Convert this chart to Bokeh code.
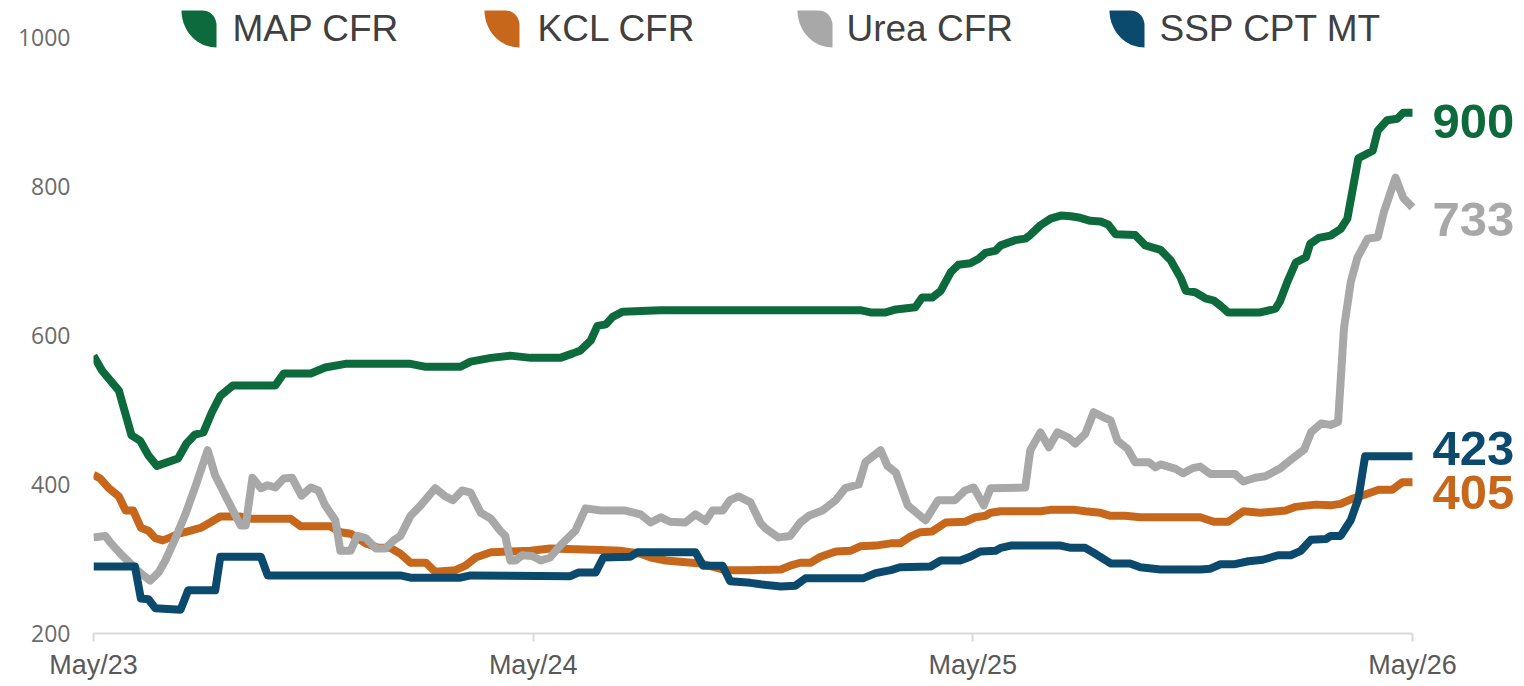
import numpy as np
from bokeh.plotting import figure
from bokeh.models import Range1d, FixedTicker, Label, PolyAnnotation
from bokeh.embed import file_html
from bokeh.resources import INLINE

# ---------------- data (weeks since May/23, price USD/t) ----------------
series_names = ["MAP CFR", "KCL CFR", "Urea CFR", "SSP CPT MT"]
series_colors = ["#0c6a3c", "#c6671c", "#a8a8a8", "#0b4a6c"]

map_weeks = [0, 1, 3, 4.5, 5.5, 6.5, 7.5, 10, 11, 12, 13, 14, 15, 16.5, 21.5, 22.5, 25.7, 27.4, 29.8,
             37.5, 39.3, 43.4, 44.6, 47, 49.3, 51.7, 55.2, 56.7, 57.6, 58.8, 59.6, 60.6, 61.4, 62.6,
             67, 90.7, 91.9, 93.7, 94.9, 97.2, 98, 99.2, 100.2, 101.4, 102.3, 103.7, 104.7, 105.5,
             106.7, 107.3, 109, 110.2, 110.8, 112, 113.2, 114.4, 115.6, 116.7, 117.9, 119.1, 120,
             120.9, 123.2, 124.4, 126.2, 127.4, 128.6, 129.2, 130.3, 131.5, 132.5, 133.3, 134.2,
             138, 139.8, 140.3, 141.2, 142.2, 143.4, 143.9, 144.9, 146.3, 147.5, 148.3, 149.6,
             151.3, 151.9, 153, 154.2, 154.9, 156]
map_vals = [573, 553, 526, 466, 459, 439, 425, 435, 455, 467, 470, 497, 519, 533, 533, 549, 549, 557, 562,
            562, 558, 558, 565, 570, 573, 570, 570, 576, 580, 593, 613, 615, 625, 632,
            634, 634, 631, 631, 635, 638, 651, 651, 660, 685, 695, 697, 703, 711,
            714, 721, 728, 730, 735, 748, 757, 761, 760, 758, 754, 753, 749,
            736, 735, 721, 715, 701, 677, 660, 658, 650, 647, 640, 631,
            631, 636, 645, 672, 698, 705, 723, 731, 734, 743, 757, 838,
            848, 875, 889, 891, 899, 899]

kcl_weeks = [0, 0.8, 1.8, 3, 3.8, 4.7, 5.6, 6.5, 7.3, 8.2, 9.1, 10.1, 11.5, 12.7, 13.8, 15, 17.4, 18.6,
             23.3, 24.5, 28, 29.2, 30.4, 32.2, 33.7, 35.1, 36.3, 37.5, 39.3, 40.4, 42.8, 44, 45.2, 47,
             49.3, 51.7, 54, 60, 62.3, 64.7, 65.9, 67.7, 71.8, 74.7, 77.7, 81.3, 82.4, 83.6, 84.8, 86,
             87.8, 89.5, 90.7, 92.5, 94.3, 95.4, 96.6, 97.8, 99.2, 100.8, 103.1, 104.3, 105.5, 106.1,
             107.3, 112, 113.2, 116.1, 117.3, 119.1, 120.3, 122, 123.8, 130.9, 132.5, 134.2, 135.1,
             136, 138, 141, 142.2, 143.7, 144.6, 146.3, 147.5, 148.7, 150.5, 152, 153.6, 154.8, 156]
kcl_vals = [413, 408, 395, 384, 365, 365, 342, 338, 328, 325, 329, 334, 338, 342, 349, 357, 357, 354,
            354, 344, 344, 336, 334, 321, 315, 315, 307, 295, 295, 283, 285, 291, 302, 309,
            310, 311, 314, 312, 311, 307, 302, 298, 294, 285, 285, 286, 291, 295, 295, 303,
            310, 311, 317, 318, 321, 321, 330, 336, 337, 349, 350, 356, 358, 362,
            364, 364, 366, 366, 364, 362, 358, 358, 356, 356, 350, 350, 357,
            364, 362, 365, 370, 372, 373, 372, 374, 380, 387, 393, 393, 403, 403]

urea_weeks = [0, 1.4, 2, 3.2, 5, 5.9, 6.7, 7.7, 8.5, 9.7, 10.9, 12.1, 13.5, 14.4, 15.6, 17.4, 18, 18.8,
              19.8, 20.6, 21.5, 22.5, 23.5, 24.6, 25.7, 26.6, 27.4, 28.6, 29.2, 30.4, 31.2, 32.2, 33.4,
              34.5, 35.5, 36.3, 37.5, 38.7, 40.4, 41.6, 42.5, 43.6, 44.6, 45.8, 47, 48.1, 48.7, 49.3,
              49.9, 50.7, 51.9, 52.9, 54, 55.2, 57, 58.2, 60, 62.9, 64.7, 65.9, 67.1, 68.2, 70, 71.2,
              72.4, 73.2, 74.4, 75.3, 76.3, 77.7, 78.9, 79.5, 81, 82.4, 83.6, 84.6, 86.2, 87.8, 88.9,
              90.5, 91.3, 93.1, 93.9, 94.9, 96.3, 98.4, 99.9, 101.9, 103.1, 104.1, 105.3, 106.1, 110.2,
              110.8, 112, 113, 114, 115.3, 116.1, 117.3, 118.3, 119.7, 120.3, 121.1, 122.3, 123.2,
              124.8, 125.6, 126.2, 128, 128.9, 130, 130.9, 132.1, 135, 136, 137.4, 138.6, 140.4,
              141.6, 143.2, 144, 145.2, 146.3, 147.2, 147.9, 148.7, 149.5, 150.7, 151.9, 152.6, 154,
              154.9, 156]
urea_vals = [329, 331, 322, 307, 287, 278, 271, 282, 298, 328, 361, 399, 446, 412, 385, 345, 345, 409,
             395, 399, 396, 408, 409, 385, 396, 392, 372, 352, 311, 311, 331, 328, 314,
             314, 325, 331, 358, 372, 395, 384, 379, 392, 389, 362, 354, 338, 331, 298,
             298, 305, 304, 298, 302, 318, 338, 368, 365, 365, 360, 349, 356, 350, 349, 360,
             351, 365, 365, 379, 384, 376, 348, 341, 329, 331, 349, 358, 365, 379, 395,
             400, 430, 446, 425, 416, 372, 352, 379, 379, 392, 396, 372, 395, 396,
             446, 470, 450, 470, 463, 455, 468, 497, 489, 486, 459, 448, 430,
             430, 423, 427, 421, 415, 422, 424, 414, 414, 404, 409, 411, 422,
             433, 447, 470, 482, 480, 484, 610, 672, 705, 730, 732, 765, 812,
             785, 772]

ssp_weeks = [0, 4.9, 5.6, 6.5, 7.3, 10.3, 11.2, 14.4, 15, 19.8, 20.6, 36.3, 37.5, 43.4, 44.6, 56.4, 57.4,
             59.4, 60.3, 63.5, 64.3, 71.2, 72.1, 74.4, 75.3, 77.7, 78.9, 81.3, 83, 84.2, 91, 92.5,
             94.3, 95.4, 99, 100.2, 102.5, 103.7, 104.9, 106.7, 107.3, 108.5, 114.4, 115.6, 117.3,
             118.5, 120.3, 122.6, 123.8, 126.2, 130.9, 132.1, 133.3, 135, 136.6, 138.3, 140.1, 141.6,
             142.8, 144, 145.8, 146.3, 147.5, 148.7, 149.6, 150.4, 156]
ssp_vals = [290, 290, 247, 246, 234, 232, 258, 258, 303, 303, 278, 278, 275, 275, 278, 277, 282,
            282, 302, 303, 309, 309, 291, 291, 270, 268, 266, 263, 264, 274, 274, 281,
            285, 289, 290, 298, 298, 303, 310, 311, 315, 318, 318, 315, 315,
            307, 294, 294, 289, 286, 286, 287, 293, 293, 297, 299, 305, 305,
            311, 326, 327, 331, 331, 352, 381, 438, 438]

end_labels = ["900", "405", "733", "423"]
end_label_y = [887, 389, 756, 448]

x_tick_weeks = [0, 52, 104, 156]
x_tick_labels = ["May/23", "May/24", "May/25", "May/26"]
y_ticks = [200, 400, 600, 800, 1000]

all_weeks = [map_weeks, kcl_weeks, urea_weeks, ssp_weeks]
all_vals = [map_vals, kcl_vals, urea_vals, ssp_vals]

# ---------------- figure ----------------
p = figure(width=1524, height=686, output_backend="svg", toolbar_location=None,
           x_range=Range1d(0, 169.25), y_range=Range1d(200, 1049.7),
           min_border_left=93, min_border_right=0, min_border_top=0, min_border_bottom=53)
p.outline_line_color = None
p.xgrid.visible = False
p.ygrid.visible = False
p.background_fill_color = "white"

for wk, vals, col in zip(all_weeks, all_vals, series_colors):
    p.line(wk, vals, line_color=col, line_width=8, line_join="round", line_cap="butt")

# x axis
xa = p.xaxis[0]
xa.ticker = FixedTicker(ticks=x_tick_weeks)
xa.bounds = (x_tick_weeks[0], x_tick_weeks[-1])
xa.major_label_overrides = {w: l for w, l in zip(x_tick_weeks, x_tick_labels)}
xa.axis_line_color = "#d9d9d9"
xa.axis_line_width = 2
xa.major_tick_line_color = "#d9d9d9"
xa.major_tick_line_width = 2
xa.major_tick_out = 8
xa.major_tick_in = 0
xa.minor_tick_line_color = None
xa.major_label_text_font = "Liberation Sans"
xa.major_label_text_font_size = "27px"
xa.major_label_text_color = "#595959"
xa.major_label_text_line_height = 1.1
xa.major_label_standoff = 8

# y axis
ya = p.yaxis[0]
ya.ticker = FixedTicker(ticks=y_ticks)
ya.axis_line_color = None
ya.major_tick_line_color = None
ya.minor_tick_line_color = None
ya.major_label_text_font = "Open Sans"
ya.major_label_text_font_size = "23px"
ya.major_label_text_color = "#6b6b6b"
ya.major_label_standoff = 17

# end labels
for lab, ly, col in zip(end_labels, end_label_y, series_colors):
    p.add_layout(Label(x=x_tick_weeks[-1], y=ly, x_offset=20, text=lab, text_color=col,
                       text_font="Liberation Sans", text_font_style="bold",
                       text_font_size="49px", text_baseline="middle", text_align="left"))

# legend (leaf icons + text), in screen units relative to the frame
def leaf(x0, y0, w, h):
    pts = [(0.0, 1.0), (0.6, 1.0)]
    for t in np.linspace(np.pi / 2, 0, 12):
        pts.append((0.6 + 0.4 * np.cos(t), 0.6 + 0.4 * np.sin(t)))
    pts.append((1.0, 0.0))
    for t in np.linspace(1.5 * np.pi, np.pi, 20):
        pts.append((1.0 + np.cos(t), 1.0 + np.sin(t)))
    xs = [x0 + px * w for px, _ in pts]
    ys = [y0 + py * h for _, py in pts]
    return xs, ys

icon_left = [88, 391, 704, 1016]
text_left = [139, 444, 753, 1066]
for name, col, il, tl in zip(series_names, series_colors, icon_left, text_left):
    xs, ys = leaf(il, 586, 35, 37)
    p.add_layout(PolyAnnotation(xs=xs, ys=ys, xs_units="screen", ys_units="screen",
                                fill_color=col, fill_alpha=1.0, line_color=None))
    p.add_layout(Label(x=tl, y=605, x_units="screen", y_units="screen", text=name,
                       text_color="#404040", text_font="Liberation Sans",
                       text_font_size="37px", text_baseline="middle", text_align="left"))

open("out.html", "w").write(file_html(p, INLINE))
